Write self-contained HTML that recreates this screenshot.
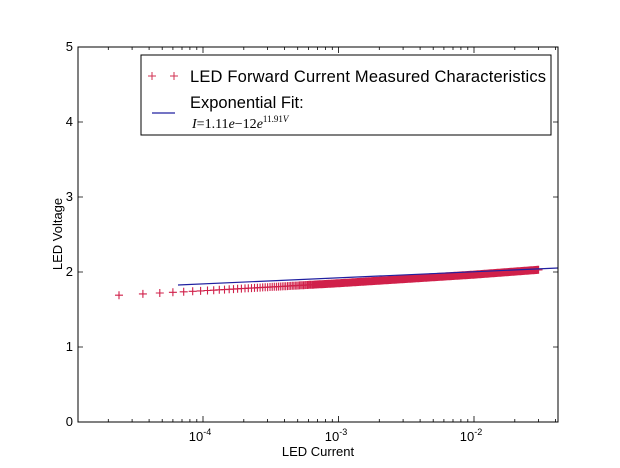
<!DOCTYPE html>
<html><head><meta charset="utf-8"><style>
html,body{margin:0;padding:0;background:#fff;}
svg{display:block;font-family:"Liberation Sans","DejaVu Sans",sans-serif;}
</style></head><body>
<svg id="s" width="620" height="468" viewBox="0 0 620 468" xmlns="http://www.w3.org/2000/svg">
<rect width="620" height="468" fill="#fff"/>
<g id="data"></g>
<line x1="178" y1="285" x2="558" y2="268" stroke="#2020a0" stroke-width="1.2"/>
<rect x="78" y="47" width="480" height="375" fill="none" stroke="#000" stroke-width="1"/>
<g id="ticks" stroke="#000" stroke-width="0.8"></g>
<g font-size="13" text-anchor="end" fill="#000">
<text x="73" y="426">0</text><text x="73" y="351">1</text><text x="73" y="276">2</text>
<text x="73" y="201">3</text><text x="73" y="126">4</text><text x="73" y="51">5</text>
</g>
<g font-size="13" fill="#000" text-anchor="middle">
<text x="200" y="441">10<tspan font-size="9" dy="-6">-4</tspan></text>
<text x="336" y="441">10<tspan font-size="9" dy="-6">-3</tspan></text>
<text x="471" y="441">10<tspan font-size="9" dy="-6">-2</tspan></text>
<text x="318" y="456">LED Current</text>
<text transform="translate(62,234) rotate(-90)">LED Voltage</text>
</g>
<rect x="141" y="55" width="410" height="80" fill="#fff" stroke="#000" stroke-width="1"/>
<g stroke="#d03050" stroke-width="1"><path d="M148 76h8M152 72v8M170 76h8M174 72v8"/></g>
<line x1="152" y1="113" x2="175" y2="113" stroke="#2020a0" stroke-width="1.2"/>
<text x="190" y="82" font-size="16.5" textLength="356">LED Forward Current Measured Characteristics</text>
<text x="190" y="108" font-size="16.5">Exponential Fit:</text>
<text x="192" y="128" font-size="14" font-family="Liberation Serif,serif"><tspan font-style="italic">I</tspan>=1.11<tspan font-style="italic">e</tspan>−12<tspan font-style="italic">e</tspan><tspan font-size="9" dy="-6">11.91<tspan font-style="italic">V</tspan></tspan></text>
</svg>
<script>
var NS="http://www.w3.org/2000/svg";
function X(l){return 203+(l+4)*135.5;}
function Y(v){return 422-v*75;}
var pts=[[-4.63,1.69],[-4,1.75],[-3,1.85],[-2,1.965],[-1.52,2.03]];
function V(l){for(var i=0;i<pts.length-1;i++){if(l<=pts[i+1][0]){var t=(l-pts[i][0])/(pts[i+1][0]-pts[i][0]);return pts[i][1]+t*(pts[i+1][1]-pts[i][1]);}}return pts[pts.length-1][1];}
var d="";
for(var k=2;k<=2500;k++){var l=Math.log10(k*1.2e-5);var x=X(l),y=Y(V(l));d+="M"+(x-4).toFixed(1)+" "+y.toFixed(1)+"h8M"+x.toFixed(1)+" "+(y-4).toFixed(1)+"v8";}
var p=document.createElementNS(NS,"path");p.setAttribute("d",d);p.setAttribute("stroke","#d0204a");p.setAttribute("stroke-width","1.1");p.setAttribute("fill","none");
document.getElementById("data").appendChild(p);
var t="";
for(var v=0;v<=5;v++){var y=Y(v);t+="M78 "+y+"h5M558 "+y+"h-5";}
for(var e=-5;e<=-2;e++){for(var m=1;m<10;m++){var l=e+Math.log10(m);var x=X(l);if(x<78||x>558)continue;var L=(m==1)?6:3;t+="M"+x.toFixed(1)+" 422v-"+L+"M"+x.toFixed(1)+" 47v"+L;}}
var q=document.createElementNS(NS,"path");q.setAttribute("d",t);document.getElementById("ticks").appendChild(q);
</script>
</body></html>
